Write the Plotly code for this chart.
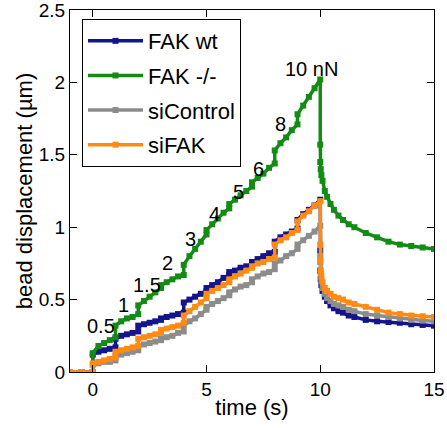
import plotly.graph_objects as go

time = [-1.0, -0.5, 0.0,
        0.0, 0.25, 0.5, 0.75, 1.0,
        1.0, 1.25, 1.5, 1.75, 2.0,
        2.0, 2.25, 2.5, 2.75, 3.0,
        3.0, 3.25, 3.5, 3.75, 4.0,
        4.0, 4.25, 4.5, 4.75, 5.0,
        5.0, 5.25, 5.5, 5.75, 6.0,
        6.0, 6.25, 6.5, 6.75, 7.0,
        7.0, 7.25, 7.5, 7.75, 8.0,
        8.0, 8.25, 8.5, 8.75, 9.0,
        9.0, 9.25, 9.5, 9.75, 10.0,
        10.0, 10.0, 10.02, 10.05, 10.1, 10.2, 10.3, 10.45, 10.6, 10.8,
        11.0, 11.25, 11.5, 12.0, 12.5, 13.0, 13.5, 14.0, 14.5, 15.0]

fak_wt = [0, 0, 0,
          0.12, 0.14, 0.15, 0.16, 0.17,
          0.23, 0.25, 0.26, 0.27, 0.28,
          0.32, 0.33, 0.34, 0.35, 0.36,
          0.37, 0.38, 0.39, 0.40, 0.41,
          0.48, 0.50, 0.52, 0.54, 0.56,
          0.58, 0.60, 0.62, 0.65, 0.67,
          0.69, 0.70, 0.72, 0.73, 0.74,
          0.76, 0.78, 0.80, 0.82, 0.83,
          0.90, 0.93, 0.95, 0.97, 0.99,
          1.05, 1.09, 1.12, 1.15, 1.19,
          0.84, 0.70, 0.64, 0.60, 0.56, 0.52, 0.49, 0.46, 0.44, 0.42,
          0.41, 0.39, 0.38, 0.36, 0.35, 0.345, 0.34, 0.33, 0.325, 0.32]

fak_ko = [0, 0, 0,
          0.13, 0.18, 0.20, 0.22, 0.24,
          0.32, 0.35, 0.37, 0.38, 0.40,
          0.46, 0.49, 0.52, 0.55, 0.58,
          0.60, 0.62, 0.64, 0.66, 0.67,
          0.74, 0.80, 0.85, 0.90, 0.95,
          0.98, 1.02, 1.06, 1.10, 1.13,
          1.16, 1.19, 1.22, 1.25, 1.28,
          1.31, 1.34, 1.37, 1.41, 1.44,
          1.53, 1.58, 1.62, 1.67, 1.71,
          1.78, 1.84, 1.90, 1.96, 2.02,
          1.57, 1.45, 1.40, 1.36, 1.32, 1.25, 1.21, 1.16, 1.12, 1.08,
          1.05, 1.02, 1.00, 0.96, 0.93, 0.90, 0.88, 0.87, 0.86, 0.85]

si_control = [0, 0, 0,
              0.05, 0.06, 0.07, 0.07, 0.08,
              0.11, 0.12, 0.13, 0.14, 0.15,
              0.18, 0.19, 0.20, 0.21, 0.22,
              0.23, 0.24, 0.25, 0.27, 0.28,
              0.32, 0.35, 0.37, 0.40, 0.43,
              0.45, 0.47, 0.49, 0.51, 0.53,
              0.55, 0.57, 0.59, 0.60, 0.62,
              0.64, 0.66, 0.68, 0.69, 0.71,
              0.75, 0.77, 0.80, 0.82, 0.85,
              0.88, 0.91, 0.94, 0.97, 1.01,
              0.80, 0.76, 0.68, 0.63, 0.58, 0.54, 0.51, 0.49, 0.47, 0.46,
              0.45, 0.43, 0.42, 0.40, 0.39, 0.38, 0.37, 0.36, 0.355, 0.35]

si_fak = [0, 0, 0,
          0.06, 0.07, 0.08, 0.09, 0.10,
          0.14, 0.15, 0.16, 0.17, 0.18,
          0.23, 0.24, 0.25, 0.26, 0.27,
          0.29, 0.30, 0.31, 0.32, 0.34,
          0.39, 0.42, 0.45, 0.48, 0.51,
          0.54, 0.56, 0.58, 0.60, 0.62,
          0.64, 0.66, 0.68, 0.70, 0.72,
          0.73, 0.75, 0.76, 0.78, 0.79,
          0.88, 0.91, 0.93, 0.96, 0.98,
          1.04, 1.08, 1.11, 1.15, 1.18,
          0.88, 0.77, 0.70, 0.66, 0.62, 0.58, 0.56, 0.54, 0.52, 0.51,
          0.50, 0.48, 0.47, 0.45, 0.43, 0.41, 0.40, 0.39, 0.385, 0.38]

series_names = ["FAK wt", "FAK -/-", "siControl", "siFAK"]
series_colors = ["#14148c", "#148c14", "#8c8c8c", "#ff8a14"]

force_labels = ["0.5", "1", "1.5", "2", "3", "4", "5", "6", "8", "10 nN"]
force_label_t = [0.35, 1.37, 2.4, 3.28, 4.31, 5.33, 6.4, 7.3, 8.27, 9.6]
force_label_y = [0.32, 0.46, 0.60, 0.75, 0.92, 1.09, 1.24, 1.40, 1.71, 2.09]

FONT = "Liberation Sans"

fig = go.Figure()
for i, (name, ys) in enumerate(zip(series_names, [fak_wt, fak_ko, si_control, si_fak])):
    fig.add_trace(go.Scatter(
        x=time, y=ys, name=name, mode="lines+markers",
        line=dict(color=series_colors[i], width=3.5),
        marker=dict(symbol="square", size=6, color=series_colors[i]),
        legendgroup=name,
    ))

for txt, tx, ty in zip(force_labels, force_label_t, force_label_y):
    fig.add_annotation(x=tx, y=ty, text=txt, showarrow=False,
                       font=dict(family=FONT, size=20, color="black"))

axis_common = dict(
    showline=True, linecolor="black", linewidth=1, mirror="allticks",
    ticks="inside", ticklen=7, tickcolor="black", showgrid=False, zeroline=False,
    tickfont=dict(family=FONT, size=19, color="black"),
    ticklabeloverflow="allow", automargin=False,
)

fig.update_xaxes(range=[-1, 15], tickvals=[0, 5, 10, 15],
                 title=dict(text="time (s)", font=dict(family=FONT, size=22, color="black"), standoff=0),
                 **axis_common)
fig.update_yaxes(range=[0, 2.5], tickvals=[0, 0.5, 1, 1.5, 2, 2.5],
                 ticktext=["0", "0.5", "1", "1.5", "2", "2.5"],
                 title=dict(text="bead displacement (µm)", font=dict(family=FONT, size=22, color="black"), standoff=0),
                 **axis_common)

fig.update_layout(
    width=447, height=428,
    margin=dict(l=70, r=13, t=10, b=56),
    plot_bgcolor="white", paper_bgcolor="white",
    font=dict(family=FONT, size=22, color="black"),
    legend=dict(x=0.033, y=0.975, xanchor="left", yanchor="top",
                bgcolor="white", bordercolor="black", borderwidth=1,
                font=dict(family=FONT, size=22, color="black"),
                tracegroupgap=3, itemwidth=55),
)

fig.write_html("out.html", config={"displayModeBar": False},
               post_script="document.body.style.margin='0';document.body.style.overflow='hidden';")
